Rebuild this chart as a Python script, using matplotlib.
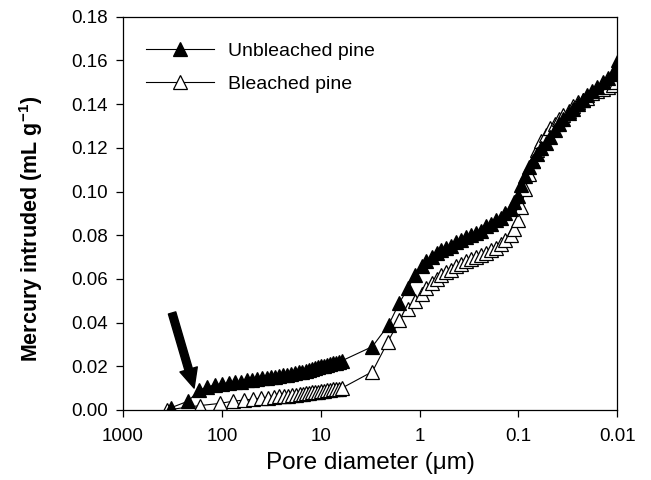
import matplotlib
matplotlib.use("Agg")
import matplotlib.pyplot as plt
from matplotlib.ticker import FixedLocator, FixedFormatter, FormatStrFormatter

plt.rcParams['font.family'] = ['Liberation Sans', 'DejaVu Sans']
plt.rcParams['mathtext.default'] = 'regular'

# Pore diameter (um) and cumulative intrusion (mL/g)
unbleached_d = [327, 220, 170, 141, 117, 99.5, 84.5, 73.5, 64, 55.6, 49.5, 44,
                39.2, 34.9, 31.8, 29.0, 26.4, 24.0, 21.9, 20.0, 18.2, 16.6,
                15.4, 14.1, 13.1, 12.2, 11.4, 10.6, 9.9, 9.2, 8.6, 8.0, 7.5,
                7.0, 6.5, 6.1,
                3.0, 2.05, 1.6, 1.3, 1.1, 0.95, 0.85, 0.75, 0.67, 0.6, 0.54,
                0.48, 0.43, 0.38, 0.34, 0.30, 0.27, 0.24, 0.21, 0.19, 0.17,
                0.15, 0.135, 0.12, 0.11, 0.10, 0.093, 0.085, 0.078, 0.071,
                0.065, 0.059, 0.053, 0.048, 0.043, 0.039, 0.035, 0.031,
                0.028, 0.025, 0.022, 0.020, 0.018, 0.016, 0.014, 0.0125,
                0.011, 0.0102, 0.0097]
unbleached_v = [0.001, 0.004, 0.009, 0.0105, 0.0115, 0.012, 0.0125, 0.013,
                0.013, 0.0135, 0.0135, 0.014, 0.0145, 0.0145, 0.015, 0.015,
                0.0155, 0.016, 0.016, 0.0165, 0.017, 0.0172, 0.0175, 0.018,
                0.0183, 0.0187, 0.019, 0.0195, 0.020, 0.0203, 0.0207, 0.021,
                0.0213, 0.0217, 0.022, 0.0225,
                0.029, 0.039, 0.049, 0.056, 0.062, 0.066, 0.068, 0.070,
                0.072, 0.073, 0.074, 0.075, 0.077, 0.078, 0.079, 0.080,
                0.081, 0.082, 0.084, 0.085, 0.087, 0.088, 0.090, 0.092,
                0.095, 0.098, 0.103, 0.107, 0.111, 0.114, 0.117, 0.120,
                0.122, 0.125, 0.128, 0.131, 0.133, 0.136, 0.138, 0.140,
                0.142, 0.144, 0.146, 0.148, 0.150, 0.152, 0.154, 0.157, 0.160]

bleached_d = [359, 166, 104, 77, 59.6, 48.3, 40.1, 34.1, 29.6, 26.4, 23.5,
              21.4, 19.5, 17.7, 16.2, 15.1, 14.1, 13.1, 12.2, 11.4, 10.6, 9.9,
              9.2, 8.6, 8.0, 7.5, 7.0, 6.5, 6.1,
              3.0, 2.1, 1.6, 1.3, 1.1, 0.95, 0.85, 0.75, 0.67, 0.6, 0.54,
              0.48, 0.43, 0.38, 0.34, 0.30, 0.27, 0.24, 0.21, 0.19, 0.17,
              0.15, 0.135, 0.12, 0.11, 0.10, 0.093, 0.085, 0.078, 0.071,
              0.065, 0.059, 0.053, 0.048, 0.043, 0.039, 0.035, 0.031, 0.028,
              0.025, 0.022, 0.020, 0.018, 0.016, 0.014, 0.0125, 0.011, 0.0102]
bleached_v = [0.0, 0.002, 0.003, 0.004, 0.0045, 0.005, 0.0053, 0.0056,
              0.006, 0.0062, 0.0064, 0.0066, 0.0068, 0.007, 0.0072, 0.0074,
              0.0076, 0.0078, 0.008, 0.0082, 0.0084, 0.0086, 0.0088, 0.009,
              0.0092, 0.0094, 0.0096, 0.0098, 0.010,
              0.0175, 0.031, 0.041, 0.046, 0.050, 0.053, 0.056, 0.058,
              0.060, 0.062, 0.063, 0.064, 0.066, 0.067, 0.068, 0.069, 0.070,
              0.071, 0.072, 0.073, 0.074, 0.076, 0.078, 0.080, 0.083, 0.087,
              0.093, 0.101, 0.108, 0.114, 0.119, 0.123, 0.126, 0.129, 0.131,
              0.133, 0.135, 0.137, 0.139, 0.141, 0.142, 0.143, 0.145, 0.146,
              0.147, 0.148, 0.149, 0.150]

x_ticks = [1000, 100, 10, 1, 0.1, 0.01]
x_tick_labels = ['1000', '100', '10', '1', '0.1', '0.01']
y_ticks = [0.00, 0.02, 0.04, 0.06, 0.08, 0.10, 0.12, 0.14, 0.16, 0.18]

fig = plt.figure(figsize=(6.51, 4.8), dpi=100)
ax = fig.add_axes([0.189, 0.146, 0.759, 0.819])

ax.plot(bleached_d, bleached_v, color='black', lw=0.8, marker='^', ms=10,
        mfc='white', mec='black', mew=0.9, label='Bleached pine', zorder=2)
ax.plot(unbleached_d, unbleached_v, color='black', lw=0.8, marker='^', ms=10,
        mfc='black', mec='black', mew=0.9, label='Unbleached pine', zorder=3)

ax.set_xscale('log')
ax.set_xlim(1000, 0.01)
ax.set_ylim(0, 0.18)
ax.xaxis.set_major_locator(FixedLocator(x_ticks))
ax.xaxis.set_major_formatter(FixedFormatter(x_tick_labels))
ax.xaxis.set_minor_locator(FixedLocator([]))
ax.yaxis.set_major_locator(FixedLocator(y_ticks))
ax.yaxis.set_major_formatter(FormatStrFormatter('%.2f'))
ax.tick_params(direction='out', length=5, width=0.9, labelsize=13.5)
ax.tick_params(axis='x', pad=8)
ax.tick_params(axis='y', pad=6)
for s in ax.spines.values():
    s.set_linewidth(0.9)

ax.set_xlabel('Pore diameter (\u03bcm)', fontsize=17.5, labelpad=5)
ax.set_ylabel('Mercury intruded (mL g$^{-1}$)', fontsize=15.5,
              fontweight='bold')
ax.yaxis.set_label_coords(-0.157, 0.46)

# arrow marking the onset of intrusion
ax.annotate('', xy=(191, 0.010), xytext=(319, 0.0444),
            arrowprops=dict(facecolor='black', edgecolor='black', width=5.5,
                            headwidth=13, headlength=14, shrink=0))

handles, labels = ax.get_legend_handles_labels()
ax.legend(handles[::-1], labels[::-1], loc='upper left', frameon=False,
          fontsize=14, handlelength=3.5, handletextpad=0.72, labelspacing=0.8,
          bbox_to_anchor=(0.03, 0.955), borderaxespad=0)

fig.savefig('out.png', dpi=100)
